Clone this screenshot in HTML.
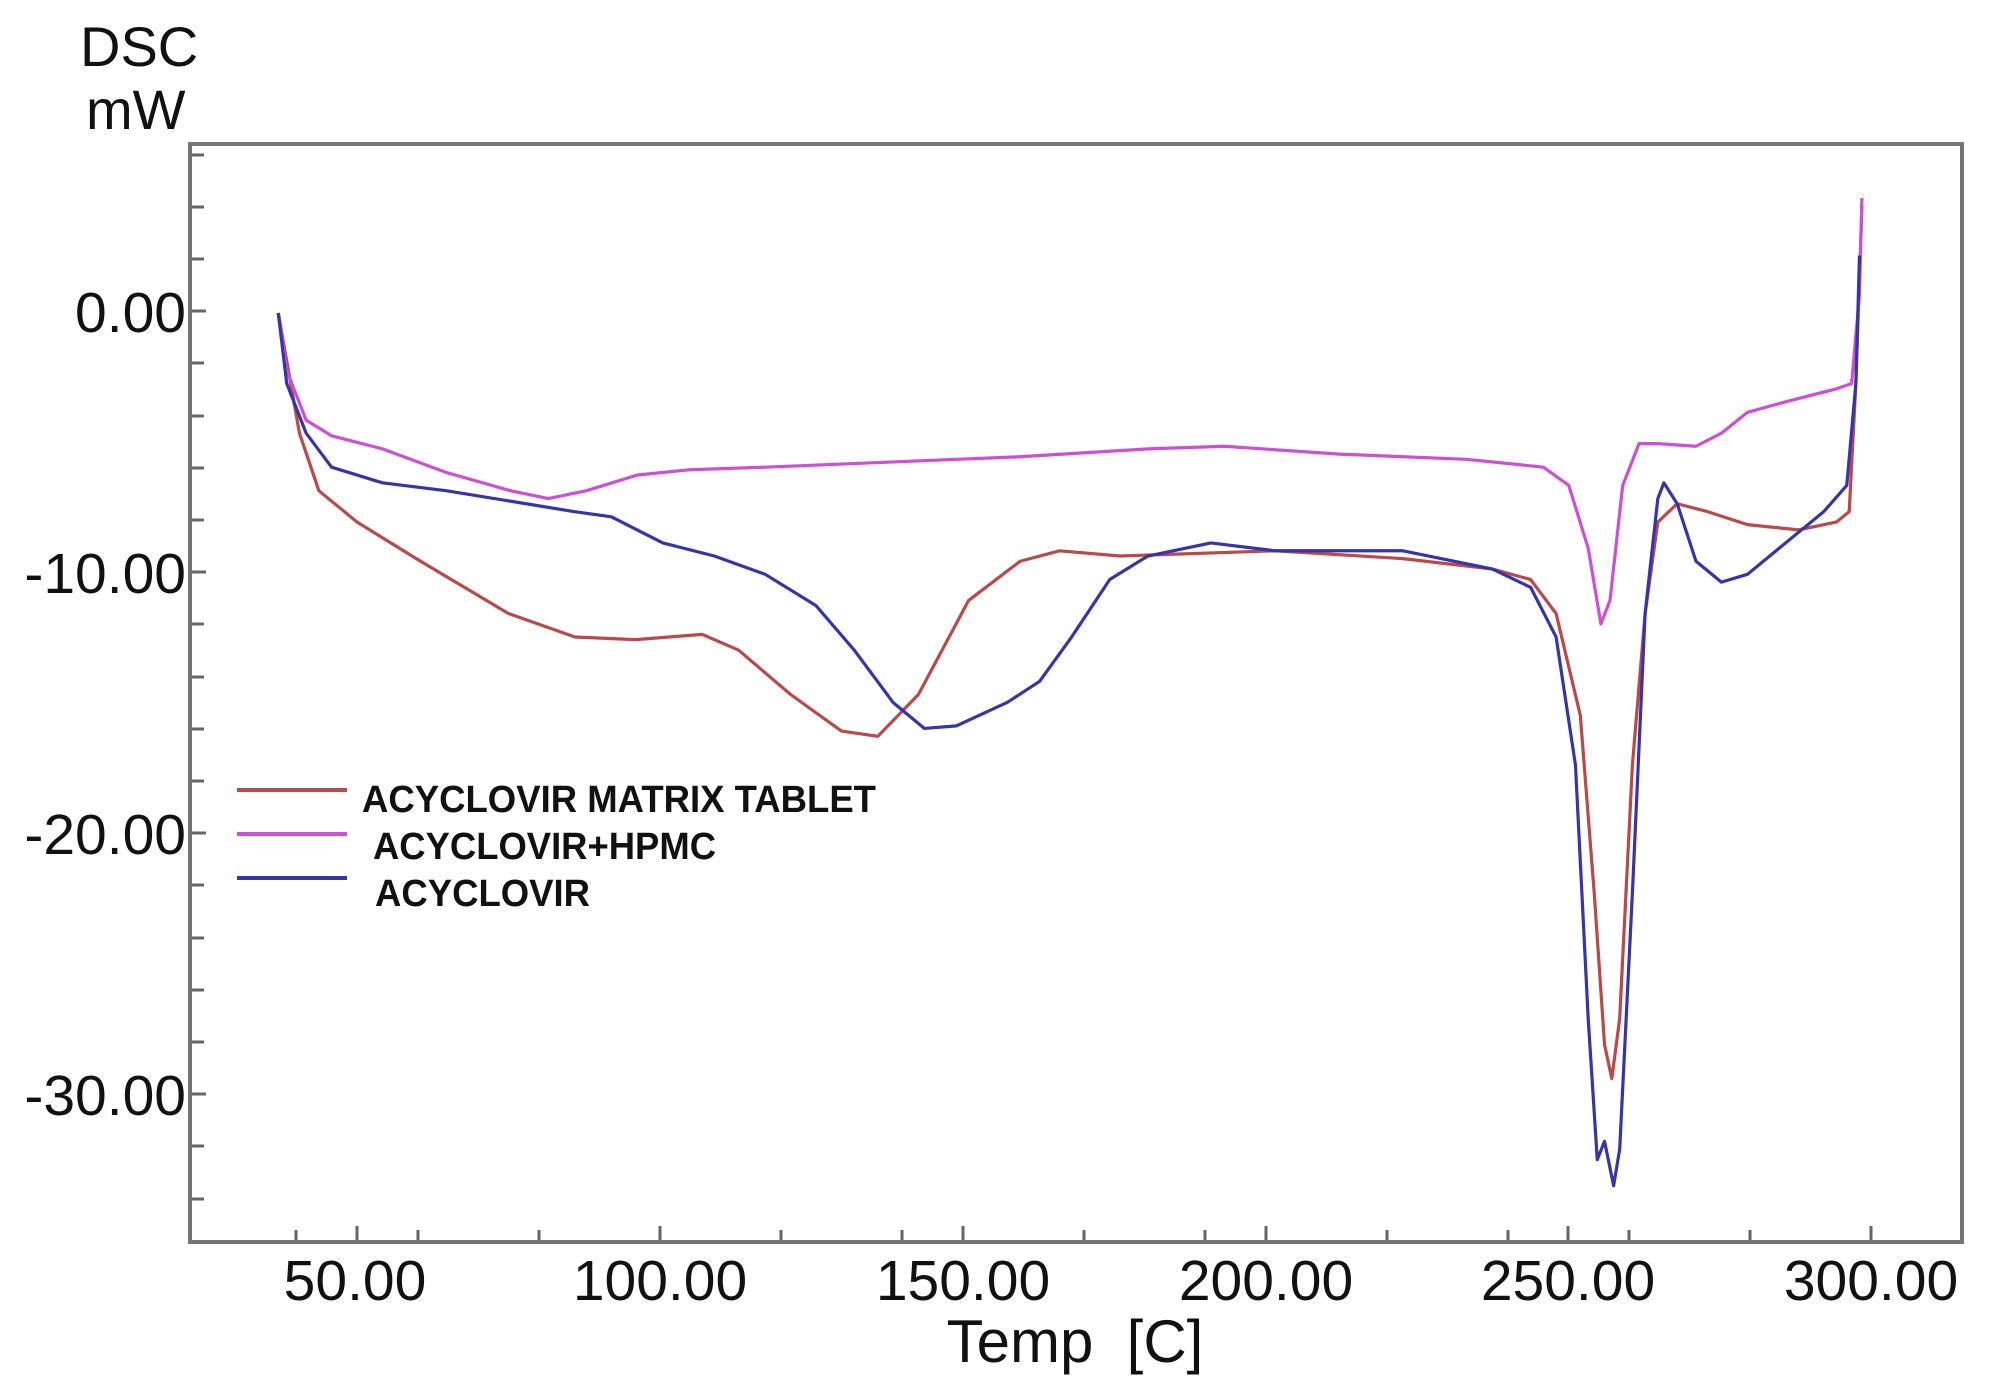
<!DOCTYPE html>
<html><head><meta charset="utf-8"><style>
html,body{margin:0;padding:0;background:#fff;}
svg{display:block;}
text{font-family:"Liberation Sans",Arial,sans-serif;fill:#111;}
.p{fill:none;stroke-width:3.2;stroke-linejoin:round;vector-effect:non-scaling-stroke;}
</style></head><body>
<svg width="1990" height="1397" viewBox="0 0 1990 1397" xmlns="http://www.w3.org/2000/svg">
<rect width="1990" height="1397" fill="#fff"/>
<text x="80" y="66" font-size="56">DSC</text>
<text x="86" y="129" font-size="56">mW</text>
<rect x="190" y="144" width="1772" height="1098" fill="none" stroke="#777" stroke-width="4"/>
<g stroke="#666" stroke-width="3">
<line x1="192" y1="155" x2="204" y2="155"/><line x1="192" y1="207" x2="204" y2="207"/><line x1="192" y1="259" x2="204" y2="259"/><line x1="192" y1="311" x2="206" y2="311"/>
<line x1="192" y1="363" x2="204" y2="363"/><line x1="192" y1="416" x2="204" y2="416"/><line x1="192" y1="468" x2="204" y2="468"/><line x1="192" y1="520" x2="204" y2="520"/><line x1="192" y1="572" x2="206" y2="572"/>
<line x1="192" y1="624" x2="204" y2="624"/><line x1="192" y1="677" x2="204" y2="677"/><line x1="192" y1="729" x2="204" y2="729"/><line x1="192" y1="781" x2="204" y2="781"/><line x1="192" y1="833" x2="206" y2="833"/>
<line x1="192" y1="885" x2="204" y2="885"/><line x1="192" y1="938" x2="204" y2="938"/><line x1="192" y1="990" x2="204" y2="990"/><line x1="192" y1="1042" x2="204" y2="1042"/><line x1="192" y1="1094" x2="206" y2="1094"/>
<line x1="192" y1="1146" x2="204" y2="1146"/><line x1="192" y1="1199" x2="204" y2="1199"/>
</g>
<g stroke="#666" stroke-width="3">
<line x1="296" y1="1240" x2="296" y2="1230"/><line x1="357" y1="1240" x2="357" y2="1226"/><line x1="418" y1="1240" x2="418" y2="1230"/><line x1="539" y1="1240" x2="539" y2="1230"/><line x1="660" y1="1240" x2="660" y2="1226"/>
<line x1="781" y1="1240" x2="781" y2="1230"/><line x1="902" y1="1240" x2="902" y2="1230"/><line x1="963" y1="1240" x2="963" y2="1226"/><line x1="1084" y1="1240" x2="1084" y2="1230"/><line x1="1205" y1="1240" x2="1205" y2="1230"/>
<line x1="1266" y1="1240" x2="1266" y2="1226"/><line x1="1387" y1="1240" x2="1387" y2="1230"/><line x1="1508" y1="1240" x2="1508" y2="1230"/><line x1="1568" y1="1240" x2="1568" y2="1226"/><line x1="1629" y1="1240" x2="1629" y2="1230"/>
<line x1="1750" y1="1240" x2="1750" y2="1230"/><line x1="1871" y1="1240" x2="1871" y2="1226"/>
</g>
<g font-size="57" text-anchor="end">
<text x="186" y="332">0.00</text><text x="186" y="593">-10.00</text><text x="186" y="854">-20.00</text><text x="186" y="1115">-30.00</text>
</g>
<g font-size="57" text-anchor="middle">
<text x="355" y="1300">50.00</text><text x="660" y="1300">100.00</text><text x="963" y="1300">150.00</text><text x="1266" y="1300">200.00</text><text x="1568" y="1300">250.00</text><text x="1871" y="1300">300.00</text>
<text x="1075" y="1362" font-size="60" xml:space="preserve">Temp  [C]</text>
</g>
<g transform="translate(54.2,313) scale(6.056,-26.13)">
<polyline class="p" stroke="#b84a4a" points="37,0 40.5,-4.6 43.7,-6.8 50,-8 60.5,-9.5 75,-11.5 86,-12.4 96,-12.5 107,-12.3 113,-12.9 121.6,-14.6 130,-16 136,-16.2 142.7,-14.6 151,-11 159.5,-9.5 166,-9.1 176,-9.3 201.6,-9.1 222.7,-9.4 237.5,-9.8 243.8,-10.2 248,-11.5 252,-15.4 254.3,-22.2 256,-28 257.2,-29.3 258.5,-27 260.6,-17.3 262.7,-11.5 264.8,-8 268,-7.3 273,-7.6 279.6,-8.1 288,-8.3 294.3,-8 296.4,-7.6 297.5,-2.7 298.5,4.1"/>
<polyline class="p" stroke="#cc4fd6" points="37,0 38.4,-2.2 41.6,-4.1 45.8,-4.7 54.2,-5.2 64.7,-6.1 75.3,-6.8 81.6,-7.1 87.9,-6.8 96.3,-6.2 104.8,-6 117.4,-5.9 138.5,-5.7 159.5,-5.5 180.6,-5.2 193.2,-5.1 212.2,-5.4 233.2,-5.6 245.9,-5.9 250.1,-6.6 253.3,-9 255.4,-11.9 256.9,-11 259,-6.6 261.7,-5 264.8,-5 271.1,-5.1 275.3,-4.6 279.6,-3.8 285.9,-3.4 294.3,-2.9 296.8,-2.7 298.1,0.7 298.5,4.4"/>
<polyline class="p" stroke="#3535a8" points="37,0 38.4,-2.7 41.6,-4.6 45.8,-5.9 54.2,-6.5 64.7,-6.8 75.3,-7.2 85.8,-7.6 92,-7.8 100.5,-8.8 109,-9.3 117.4,-10 125.8,-11.2 132.1,-12.9 138.5,-14.9 143.7,-15.9 149,-15.8 157.4,-14.9 162.7,-14.1 168,-12.4 174.3,-10.2 180.6,-9.3 191,-8.8 201.6,-9.1 222.7,-9.1 237.5,-9.8 243.8,-10.5 248,-12.4 251.2,-17.3 253.3,-27 254.8,-32.4 256,-31.7 257.5,-33.4 258.5,-32 260.6,-22.2 262.7,-11.5 264.8,-7.1 265.8,-6.5 268,-7.3 271.1,-9.5 275.3,-10.3 279.6,-10 285.9,-8.8 292.2,-7.6 296,-6.6 297.5,-2.7 298.1,2.2"/>
</g>
<line x1="237" y1="790" x2="347" y2="790" stroke="#b84a4a" stroke-width="4"/>
<line x1="237" y1="834" x2="347" y2="834" stroke="#cc4fd6" stroke-width="4"/>
<line x1="237" y1="878" x2="347" y2="878" stroke="#3535a8" stroke-width="4"/>
<g font-size="38" font-weight="bold">
<text x="362" y="812" textLength="514" lengthAdjust="spacingAndGlyphs">ACYCLOVIR MATRIX TABLET</text>
<text x="373" y="859" textLength="343" lengthAdjust="spacingAndGlyphs">ACYCLOVIR+HPMC</text>
<text x="375" y="906" textLength="215" lengthAdjust="spacingAndGlyphs">ACYCLOVIR</text>
</g>
</svg>
</body></html>
